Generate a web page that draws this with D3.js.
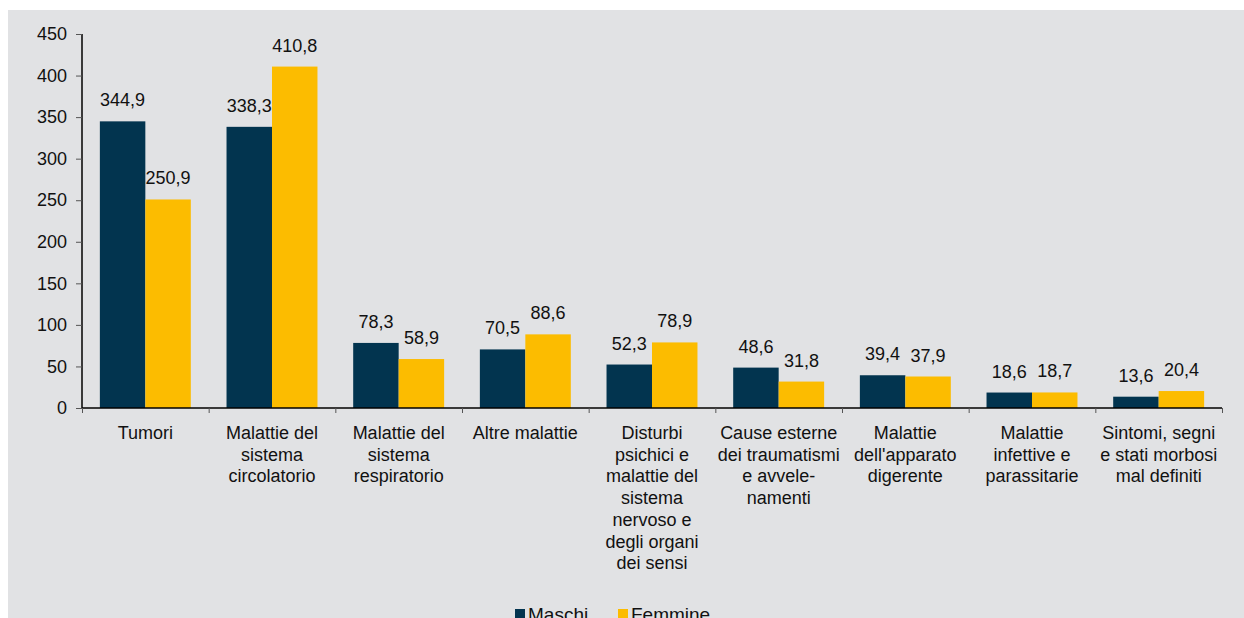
<!DOCTYPE html>
<html><head><meta charset="utf-8">
<script src="https://cdn.jsdelivr.net/npm/d3@7"></script>
<style>
html,body{margin:0;padding:0;background:#fff;}
svg{display:block;font-family:"Liberation Sans",Arial,sans-serif;}
</style></head>
<body>
<svg id="chart" width="1244" height="618"></svg>
<script>
const categories = [
  ["Tumori"],
  ["Malattie del","sistema","circolatorio"],
  ["Malattie del","sistema","respiratorio"],
  ["Altre malattie"],
  ["Disturbi","psichici e","malattie del","sistema","nervoso e","degli organi","dei sensi"],
  ["Cause esterne","dei traumatismi","e avvele-","namenti"],
  ["Malattie","dell'apparato","digerente"],
  ["Malattie","infettive e","parassitarie"],
  ["Sintomi, segni","e stati morbosi","mal definiti"]
];
const maschi = [344.9, 338.3, 78.3, 70.5, 52.3, 48.6, 39.4, 18.6, 13.6];
const femmine = [250.9, 410.8, 58.9, 88.6, 78.9, 31.8, 37.9, 18.7, 20.4];
const seriesNames = ["Maschi", "Femmine"];
const seriesColors = ["#02344f", "#fcbc00"];
const yTicks = [0, 50, 100, 150, 200, 250, 300, 350, 400, 450];

const FS = 18;
const svg = d3.select("#chart");
svg.append("rect").attr("x", 8).attr("y", 10).attr("width", 1236).attr("height", 608).attr("fill", "#e1e2e4");

const x0 = 82, x1 = 1222, yTop = 34, yBot = 408;
const x = d3.scaleBand().domain(d3.range(categories.length)).range([x0, x1]).paddingInner(0.282).paddingOuter(0.141);
const xs = d3.scaleBand().domain([0, 1]).range([0, x.bandwidth()]);
const y = d3.scaleLinear().domain([0, 450]).range([yBot, yTop]);
const fmt = v => d3.format(".1f")(v).replace(".", ",");

// bars
const data = [];
categories.forEach((c, i) => {
  data.push({i, s: 0, v: maschi[i]});
  data.push({i, s: 1, v: femmine[i]});
});
const g = svg.append("g");
g.selectAll("rect.bar").data(data).enter().append("rect")
  .attr("x", d => x(d.i) + xs(d.s))
  .attr("y", d => y(d.v))
  .attr("width", xs.bandwidth())
  .attr("height", d => yBot - y(d.v))
  .attr("fill", d => seriesColors[d.s]);
g.selectAll("text.val").data(data).enter().append("text")
  .attr("x", d => x(d.i) + xs(d.s) + xs.bandwidth() / 2)
  .attr("y", d => y(d.v) - 15)
  .attr("text-anchor", "middle")
  .attr("font-size", FS).attr("fill", "#111")
  .text(d => fmt(d.v));

// y axis
const yAxis = d3.axisLeft(y).tickValues(yTicks).tickSize(6).tickPadding(9).tickFormat(d => d);
const ya = svg.append("g").attr("transform", `translate(${x0},0)`).call(yAxis);
ya.select(".domain").attr("stroke", "#000").attr("stroke-width", 1.5).attr("d", `M0,${yTop}V${yBot}`);
ya.selectAll(".tick line").attr("stroke", "#555");
ya.selectAll(".tick text").attr("font-size", FS).attr("fill", "#111").attr("font-family", "Liberation Sans, Arial, sans-serif");

// x axis
const xb = d3.scaleLinear().domain([0, categories.length]).range([x0, x1]);
const xa = svg.append("g").attr("transform", `translate(0,${yBot})`)
  .call(d3.axisBottom(xb).tickValues(d3.range(categories.length + 1)).tickSize(5).tickFormat(""));
xa.select(".domain").attr("stroke", "#000").attr("stroke-width", 1.5).attr("d", `M${x0},0H${x1}`);
xa.selectAll(".tick line").attr("stroke", "#555");

// category labels
categories.forEach((lines, i) => {
  const t = svg.append("text")
    .attr("x", x(i) + x.bandwidth() / 2)
    .attr("y", 439)
    .attr("text-anchor", "middle")
    .attr("font-size", FS).attr("fill", "#111");
  lines.forEach((ln, k) => {
    t.append("tspan").attr("x", x(i) + x.bandwidth() / 2).attr("dy", k === 0 ? 0 : 21.7).text(ln);
  });
});

// legend
const legX = [515, 618];
seriesNames.forEach((n, k) => {
  svg.append("rect").attr("x", legX[k]).attr("y", 609).attr("width", 10).attr("height", 10).attr("fill", seriesColors[k]);
  svg.append("text").attr("x", legX[k] + 13).attr("y", 621).attr("font-size", 19).attr("fill", "#111").text(n);
});
</script>
</body></html>
